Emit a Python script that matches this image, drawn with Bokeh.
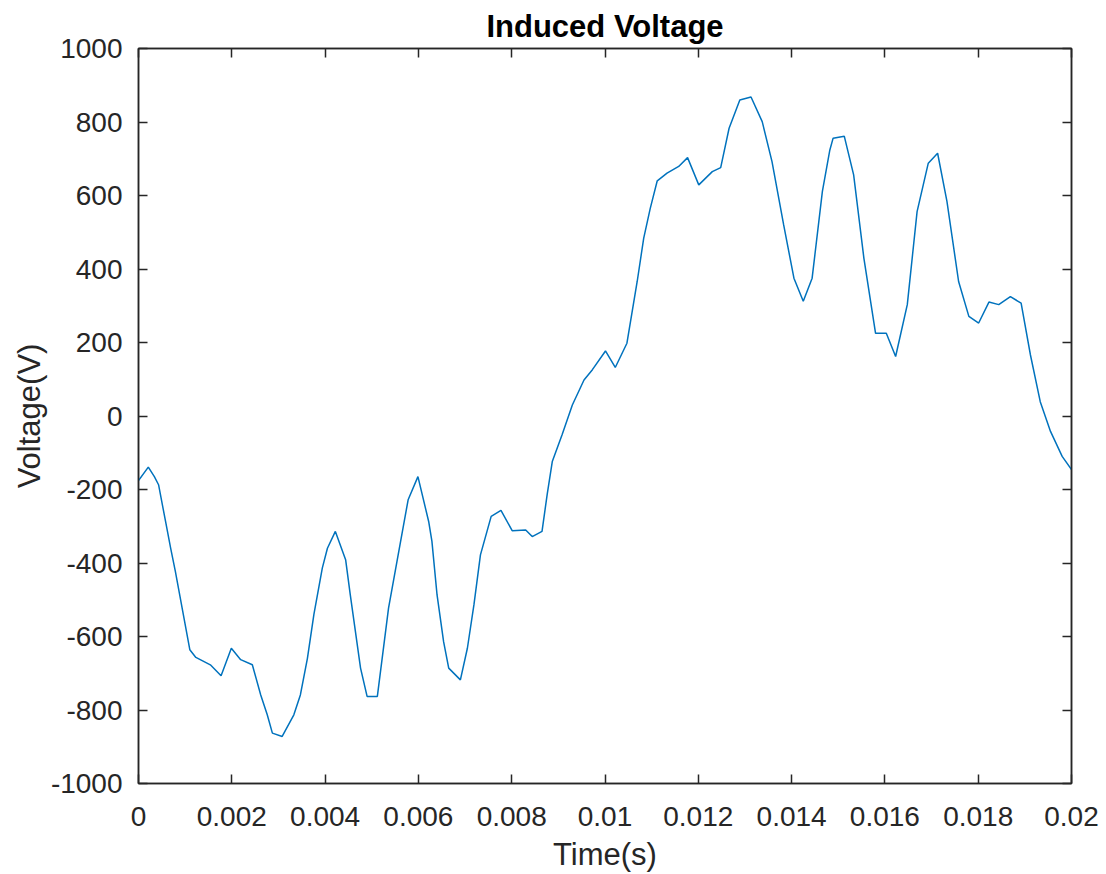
from bokeh.plotting import figure
from bokeh.models import Range1d, LinearAxis, FixedTicker
from bokeh.embed import file_html
from bokeh.resources import INLINE

# Sampled induced voltage (time in seconds, voltage in volts)
time_s = [
    0.0, 0.00021, 0.00034, 0.00043, 0.00058, 0.00069, 0.00079, 0.00110, 0.00123,
    0.00154, 0.00177, 0.00199, 0.00219, 0.00244, 0.00262, 0.00276, 0.00287,
    0.00308, 0.00333, 0.00347, 0.00362, 0.00376, 0.00394, 0.00405, 0.00422,
    0.00444, 0.00454, 0.00476, 0.00490, 0.00512, 0.00536, 0.00554, 0.00578,
    0.00599, 0.00622, 0.00629, 0.00640, 0.00654, 0.00665, 0.00690, 0.00705,
    0.00719, 0.00733, 0.00756, 0.00777, 0.00801, 0.00830, 0.00844, 0.00865,
    0.00876, 0.00887, 0.00908, 0.00930, 0.00955, 0.00973, 0.01001, 0.01022,
    0.01047, 0.01069, 0.01083, 0.01097, 0.01112, 0.01133, 0.01158, 0.01177,
    0.01201, 0.01230, 0.01248, 0.01266, 0.01289, 0.01313, 0.01337, 0.01358,
    0.01383, 0.01405, 0.01425, 0.01444, 0.01466, 0.01482, 0.01489, 0.01513,
    0.01533, 0.01555, 0.01580, 0.01603, 0.01623, 0.01648, 0.01669, 0.01693,
    0.01713, 0.01733, 0.01758, 0.01780, 0.01801, 0.01823, 0.01844, 0.01869,
    0.01892, 0.01912, 0.01933, 0.01955, 0.01980, 0.02000,
]
voltage_v = [
    -176, -139, -165, -187, -287, -360, -423, -636, -657,
    -677, -707, -632, -663, -677, -759, -813, -863,
    -872, -813, -759, -660, -540, -414, -360, -314,
    -391, -487, -686, -763, -763, -523, -396, -228,
    -165, -287, -341, -487, -614, -686, -718, -632,
    -514, -378, -273, -257, -312, -310, -328, -314,
    -214, -124, -51, 30, 98, 126, 177, 132,
    198, 366, 484, 565, 640, 661, 679, 703,
    629, 665, 676, 783, 860, 868, 801, 692,
    520, 375, 312, 375, 611, 724, 756, 761,
    656, 429, 225, 225, 162, 303, 556, 688,
    715, 584, 366, 271, 253, 310, 303, 325,
    307, 166, 39, -42, -110, -146,
]

x_ticks = [0, 0.002, 0.004, 0.006, 0.008, 0.01, 0.012, 0.014, 0.016, 0.018, 0.02]
x_tick_labels = ["0", "0.002", "0.004", "0.006", "0.008", "0.01",
                 "0.012", "0.014", "0.016", "0.018", "0.02"]
y_ticks = [-1000, -800, -600, -400, -200, 0, 200, 400, 600, 800, 1000]
y_tick_labels = ["-1000", "-800", "-600", "-400", "-200", "0",
                 "200", "400", "600", "800", "1000"]

AX = "#262626"
FONT = "Liberation Sans"

p = figure(
    width=1106, height=874,
    x_range=Range1d(0, 0.02), y_range=Range1d(-1000, 1000),
    output_backend="svg", toolbar_location=None,
    x_axis_type=None, y_axis_type=None,
    title="Induced Voltage",
)
p.min_border_left = 138
p.min_border_right = 35
p.min_border_top = 48
p.min_border_bottom = 91
p.background_fill_color = "white"
p.border_fill_color = "white"
p.outline_line_color = AX
p.outline_line_width = 1.5
p.grid.visible = False

p.title.align = "center"
p.title.text_font = FONT
p.title.text_font_size = "31px"
p.title.text_font_style = "bold"
p.title.text_color = "#000000"
p.title.standoff = 10


def style_axis(ax, ticks, labels, show_labels):
    ax.ticker = FixedTicker(ticks=ticks)
    ax.major_label_overrides = {t: l for t, l in zip(ticks, labels)}
    ax.axis_line_color = AX
    ax.axis_line_width = 1.5
    ax.major_tick_line_color = AX
    ax.major_tick_line_width = 1.5
    ax.major_tick_in = 9
    ax.major_tick_out = 0
    ax.minor_tick_line_color = None
    ax.major_label_text_font = FONT
    ax.major_label_text_color = AX
    if show_labels:
        ax.major_label_text_font_size = "28px"
    else:
        ax.major_label_text_font_size = "0px"
        ax.major_label_standoff = 0


xb = LinearAxis(axis_label="Time(s)")
style_axis(xb, x_ticks, x_tick_labels, True)
xb.major_label_standoff = 23
xb.axis_label_standoff = 8
xb.axis_label_text_font = FONT
xb.axis_label_text_font_size = "31px"
xb.axis_label_text_font_style = "normal"
xb.axis_label_text_color = AX
p.add_layout(xb, "below")

yl = LinearAxis(axis_label="Voltage(V)")
style_axis(yl, y_ticks, y_tick_labels, True)
yl.major_label_standoff = 16
yl.axis_label_standoff = 1
yl.axis_label_text_font = FONT
yl.axis_label_text_font_size = "31px"
yl.axis_label_text_font_style = "normal"
yl.axis_label_text_color = AX
p.add_layout(yl, "left")

xt = LinearAxis()
style_axis(xt, x_ticks, x_tick_labels, False)
p.add_layout(xt, "above")

yr = LinearAxis()
style_axis(yr, y_ticks, y_tick_labels, False)
p.add_layout(yr, "right")

p.line(time_s, voltage_v, line_color="#0072BD", line_width=1.5)

open("out.html", "w").write(file_html(p, INLINE))
